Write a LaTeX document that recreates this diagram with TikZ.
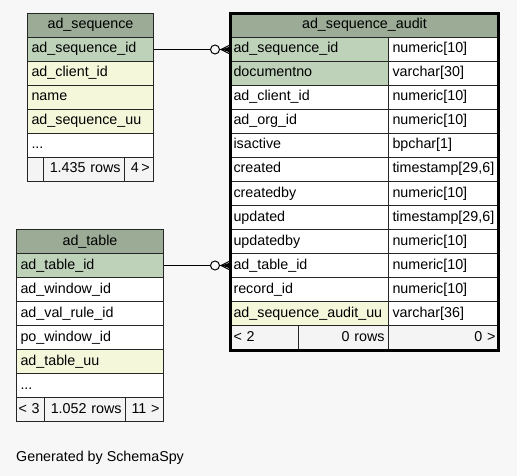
\documentclass[tikz,border=0pt]{standalone}
\usepackage{fontspec}
\setmainfont{Liberation Sans}
\usetikzlibrary{calc}
\definecolor{bg}{HTML}{F7F7F7}
\definecolor{hdr}{HTML}{9BAB96}
\definecolor{pk}{HTML}{BED1B9}
\definecolor{idx}{HTML}{F4F7DA}
\definecolor{ft}{HTML}{F4F4F4}
\begin{document}
\begin{tikzpicture}[x=1pt,y=-1pt,
  cell/.style={draw=black!85, line width=1pt, anchor=north west, minimum height=24pt,
    inner xsep=4pt, inner ysep=0pt, text height=10pt, text depth=3pt,
    font=\fontsize{14.3}{16}\selectfont, align=left, fill=white},
  hcell/.style={cell, fill=hdr, align=center},
  pkcell/.style={cell, fill=pk},
  ixcell/.style={cell, fill=idx},
  ftcell/.style={cell, fill=ft},
  conn/.style={draw=black, line width=1pt},
  ring/.style={draw=black, line width=1pt, fill=bg}]
\fill[bg] (0,0) rectangle (517,476);
\useasboundingbox (0,0) rectangle (517,476);

% ---- ad_sequence ----
\node[hcell, text width=118] (s-h) at (27,13) {ad\_sequence};
\node[pkcell, text width=118] (s-id) at (27,37) {ad\_sequence\_id};
\node[ixcell, text width=118] (s-cl) at (27,61) {ad\_client\_id};
\node[ixcell, text width=118] (s-nm) at (27,85) {name};
\node[ixcell, text width=118] (s-uu) at (27,109) {ad\_sequence\_uu};
\node[cell, text width=118] (s-more) at (27,133) {...};
\node[ftcell, text width=8] (s-f1) at (27,157) {};
\node[ftcell, text width=73, align=right] (s-f2) at (43,157) {1.435 rows};
\node[ftcell, text width=26, inner xsep=1.5pt, align=right] (s-f3) at (124,157) {4\,>\,};

% ---- ad_sequence_audit ----
\node[hcell, text width=262] (a-h) at (229,13) {ad\_sequence\_audit};
\node[pkcell, text width=151] (a-seq) at (229,37) {ad\_sequence\_id};
\node[cell, text width=103] (a-seq-t) at (388,37) {numeric[10]};
\node[pkcell, text width=151] (a-doc) at (229,61) {documentno};
\node[cell, text width=103] (a-doc-t) at (388,61) {varchar[30]};
\node[cell, text width=151] (a-cl) at (229,85) {ad\_client\_id};
\node[cell, text width=103] (a-cl-t) at (388,85) {numeric[10]};
\node[cell, text width=151] (a-org) at (229,109) {ad\_org\_id};
\node[cell, text width=103] (a-org-t) at (388,109) {numeric[10]};
\node[cell, text width=151] (a-act) at (229,133) {isactive};
\node[cell, text width=103] (a-act-t) at (388,133) {bpchar[1]};
\node[cell, text width=151] (a-cr) at (229,157) {created};
\node[cell, text width=103] (a-cr-t) at (388,157) {timestamp[29,6]};
\node[cell, text width=151] (a-crb) at (229,181) {createdby};
\node[cell, text width=103] (a-crb-t) at (388,181) {numeric[10]};
\node[cell, text width=151] (a-up) at (229,205) {updated};
\node[cell, text width=103] (a-up-t) at (388,205) {timestamp[29,6]};
\node[cell, text width=151] (a-upb) at (229,229) {updatedby};
\node[cell, text width=103] (a-upb-t) at (388,229) {numeric[10]};
\node[cell, text width=151] (a-tab) at (229,253) {ad\_table\_id};
\node[cell, text width=103] (a-tab-t) at (388,253) {numeric[10]};
\node[cell, text width=151] (a-rec) at (229,277) {record\_id};
\node[cell, text width=103] (a-rec-t) at (388,277) {numeric[10]};
\node[ixcell, text width=151] (a-uu) at (229,301) {ad\_sequence\_audit\_uu};
\node[cell, text width=103] (a-uu-t) at (388,301) {varchar[36]};
\node[ftcell, text width=61] (a-f1) at (229,325) {< 2};
\node[ftcell, text width=82, align=right] (a-f2) at (298,325) {0 rows};
\node[ftcell, text width=103, align=right] (a-f3) at (388,325) {0 >};
\draw[line width=3pt, black] (230,13.7) rectangle (498.3,350);

% ---- ad_table ----
\node[hcell, text width=139] (t-h) at (16,229) {ad\_table};
\node[pkcell, text width=139] (t-id) at (16,253) {ad\_table\_id};
\node[cell, text width=139] (t-win) at (16,277) {ad\_window\_id};
\node[cell, text width=139] (t-val) at (16,301) {ad\_val\_rule\_id};
\node[cell, text width=139] (t-po) at (16,325) {po\_window\_id};
\node[ixcell, text width=139] (t-uu) at (16,349) {ad\_table\_uu};
\node[cell, text width=139] (t-more) at (16,373) {...};
\node[ftcell, text width=24, inner xsep=2pt] (t-f1) at (16,397) {< 3};
\node[ftcell, text width=73, align=right] (t-f2) at (44,397) {1.052 rows};
\node[ftcell, text width=30, align=right] (t-f3) at (125,397) {11 >};

% ---- connectors ----
\draw[conn] (s-id.east) -- ($(a-seq.west)+(-18.5,0)$);
\draw[ring] ($(a-seq.west)+(-14,0)$) circle (4.5);
\draw[conn] ($(a-seq.west)+(-9.5,0)$) -- (a-seq.west);
\draw[conn] ($(a-seq.west)+(-8,0)$) -- ($(a-seq.west)+(0,-4)$);
\draw[conn] ($(a-seq.west)+(-8,0)$) -- ($(a-seq.west)+(0,4)$);
\fill[black] ($(a-seq.west)+(-8,0)$) -- ($(a-seq.west)+(0,-2.5)$) -- ($(a-seq.west)+(0,2.5)$) -- cycle;

\draw[conn] (t-id.east) -- ($(a-tab.west)+(-18.5,0)$);
\draw[ring] ($(a-tab.west)+(-14,0)$) circle (4.5);
\draw[conn] ($(a-tab.west)+(-9.5,0)$) -- (a-tab.west);
\draw[conn] ($(a-tab.west)+(-8,0)$) -- ($(a-tab.west)+(0,-4)$);
\draw[conn] ($(a-tab.west)+(-8,0)$) -- ($(a-tab.west)+(0,4)$);
\fill[black] ($(a-tab.west)+(-8,0)$) -- ($(a-tab.west)+(0,-2.5)$) -- ($(a-tab.west)+(0,2.5)$) -- cycle;

\node[anchor=base west, inner sep=0pt, font=\fontsize{14.3}{16}\selectfont] (gen) at (16,461) {Generated by SchemaSpy};
\end{tikzpicture}
\end{document}
